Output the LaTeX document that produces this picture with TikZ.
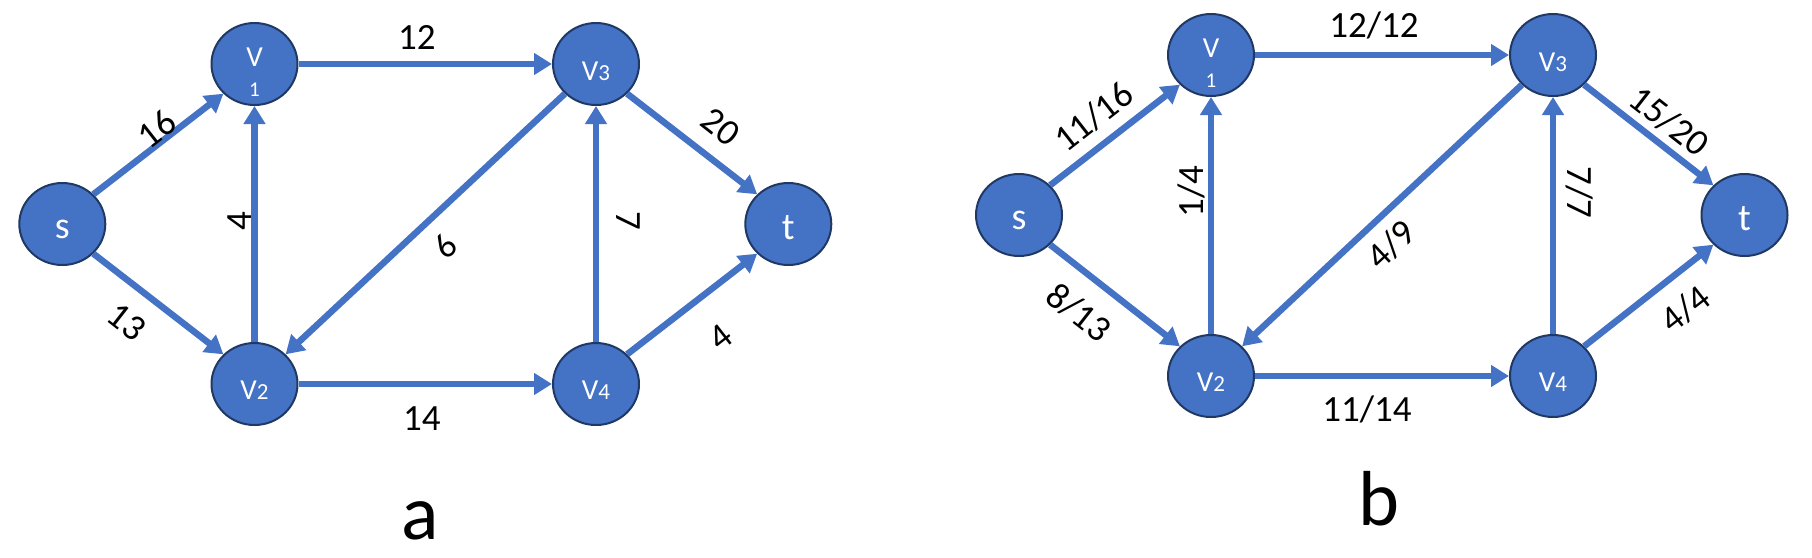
\documentclass[tikz,border=0pt]{standalone}
\usepackage{fontspec}
\setmainfont{Carlito}
\usetikzlibrary{shapes.geometric,arrows.meta}
\definecolor{nodeblue}{HTML}{4472C4}
\definecolor{nodeedge}{HTML}{203864}
\newcommand\vsub[2]{\smash{\makebox[0pt]{\raisebox{-#1pt}{\fontsize{29}{29}\selectfont V\fontsize{23}{23}\selectfont #2}}}}
\newcommand\vone{\smash{\makebox[0pt]{\raisebox{-2.7pt}{\fontsize{29}{29}\selectfont V}}}\smash{\makebox[0pt]{\raisebox{-32pt}{\fontsize{21}{21}\selectfont 1}}}}
\newcommand\stxt[2]{\smash{\makebox[0pt]{\raisebox{-#1pt}{#2}}}}
\begin{document}
\begin{tikzpicture}[x=1pt,y=-1pt,
  vert/.style={ellipse, draw=nodeedge, line width=2pt, fill=nodeblue,
    minimum width=86pt, minimum height=82pt, inner sep=0pt, text=white,
    font=\fontsize{38}{40}\selectfont},
  flow/.style={draw=nodeblue, line width=6.5pt, -{Triangle[width=21pt,length=18pt]}},
  lab/.style={font=\fontsize{37}{40}\selectfont, inner sep=0pt},
  capt/.style={font=\fontsize{78}{80}\selectfont, inner sep=0pt, anchor=base}]
\useasboundingbox (0,0) rectangle (1812,557);
% ---------------- graph a ----------------
\node[vert] (as) at (62.3,224) {\stxt{14.5}{s}};
\node[vert] (av1) at (254.5,64) {\vone};
\node[vert] (av2) at (254.5,384) {\vsub{15}{2}};
\node[vert] (av3) at (596,64) {\vsub{16}{3}};
\node[vert] (av4) at (596,384) {\vsub{15}{4}};
\node[vert] (at) at (788.3,224) {\stxt{15}{t}};
\draw[flow] (as.north east) -- (av1.south west);
\draw[flow] (as.south east) -- (av2.north west);
\draw[flow] (av1.east) -- (av3.west);
\draw[flow] (av2.north) -- (av1.south);
\draw[flow] (av3.south west) -- (av2.north east);
\draw[flow] (av2.east) -- (av4.west);
\draw[flow] (av4.north) -- (av3.south);
\draw[flow] (av3.south east) -- (at.north west);
\draw[flow] (av4.north east) -- (at.south west);
\node[lab, rotate=38] (la16) at (157,129) {16};
\node[lab, rotate=-38] (la13) at (127,322) {13};
\node[lab] (la12) at (416.8,37) {12};
\node[lab, rotate=90] (la4) at (240,221.5) {4};
\node[lab, rotate=-137] (la9) at (446,245.5) {9};
\node[lab, rotate=-90] (la7) at (628,220.5) {7};
\node[lab, rotate=-38] (la20) at (721,127) {20};
\node[lab, rotate=38] (la4t) at (720.6,337) {4};
\node[lab] (la14) at (421.8,418.7) {14};
\node[capt] (capa) at (419.7,539) {a};
% ---------------- graph b ----------------
\node[vert] (bs) at (1019,215) {\stxt{14.5}{s}};
\node[vert] (bv1) at (1211,55) {\vone};
\node[vert] (bv2) at (1211,376) {\vsub{15}{2}};
\node[vert] (bv3) at (1553,55) {\vsub{16}{3}};
\node[vert] (bv4) at (1553,376) {\vsub{15}{4}};
\node[vert] (bt) at (1744.5,215) {\stxt{15}{t}};
\draw[flow] (bs.north east) -- (bv1.south west);
\draw[flow] (bs.south east) -- (bv2.north west);
\draw[flow] (bv1.east) -- (bv3.west);
\draw[flow] (bv2.north) -- (bv1.south);
\draw[flow] (bv3.south west) -- (bv2.north east);
\draw[flow] (bv2.east) -- (bv4.west);
\draw[flow] (bv4.north) -- (bv3.south);
\draw[flow] (bv3.south east) -- (bt.north west);
\draw[flow] (bv4.north east) -- (bt.south west);
\node[lab, rotate=38] (lb16) at (1093.8,117) {11/16};
\node[lab, rotate=-38] (lb13) at (1079,312.5) {8/13};
\node[lab] (lb12) at (1374,25.9) {12/12};
\node[lab, rotate=90] (lb4) at (1191.6,191.4) {1/4};
\node[lab, rotate=43] (lb9) at (1391,244.6) {4/9};
\node[lab, rotate=-90] (lb7) at (1580,192.8) {7/7};
\node[lab, rotate=-38] (lb20) at (1669,121.4) {15/20};
\node[lab, rotate=38] (lb4t) at (1685.5,309) {4/4};
\node[lab] (lb14) at (1367,409) {11/14};
\node[capt] (capb) at (1378.6,525) {b};
\end{tikzpicture}
\end{document}
